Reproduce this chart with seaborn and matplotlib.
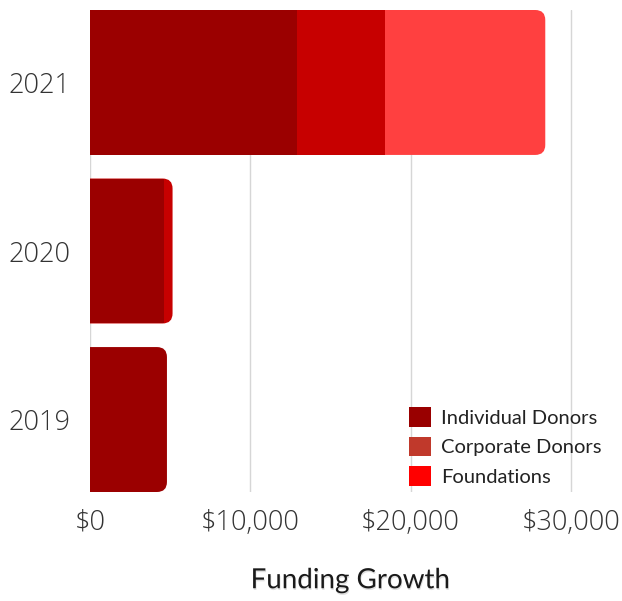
import matplotlib
matplotlib.use('Agg')
import matplotlib.pyplot as plt
import matplotlib.patheffects as pe
from matplotlib.patches import FancyBboxPatch, Patch
from matplotlib.ticker import FuncFormatter
import numpy as np
import pandas as pd
import seaborn as sns

# --------------------- data ---------------------
years = ['2021', '2020', '2019']
individual = [12900, 4600, 4800]
corporate = [5500, 550, 0]
foundations = [10000, 0, 0]

series_names = ['Individual Donors', 'Corporate Donors', 'Foundations']
bar_colors = ['#9b0000', '#c70000', '#ff4040']
legend_colors = ['#990000', '#c0392b', '#ff0000']

sns.set_style('white')
plt.rcParams['font.family'] = ['Open Sans', 'DejaVu Sans']

# --------------------- figure ---------------------
fig = plt.figure(figsize=(6.22, 6.01), dpi=100)
ax = fig.add_axes([90 / 622, 1 - 492 / 601, 521 / 622, 482 / 601])

seg = np.array([individual, corporate, foundations], dtype=float)
cum = seg.cumsum(axis=0)

# draw outer layers first, inner on top
layers = []
for k in [2, 1, 0]:
    df = pd.DataFrame({'year': years, 'value': cum[k]})
    n_before = len(ax.patches)
    sns.barplot(data=df, x='value', y='year', color=bar_colors[k], width=0.86,
                saturation=1, linewidth=0, edgecolor='none', ax=ax, zorder=3)
    layers.append((k, ax.patches[n_before:]))

ax.set_xlim(0, 32500)
ax.set_ylim(2.43, -0.43)

# data units per pixel, for round corners
fig.canvas.draw()
inv = ax.transData.inverted()
p0 = inv.transform((0, 0))
p1 = inv.transform((1, 1))
xpp = abs(p1[0] - p0[0])
ypp = abs(p1[1] - p0[1])
radius = 10 * xpp

for k, patches in layers:
    for i, p in enumerate(patches):
        p.set_zorder(3 + (2 - k) * 0.1)
        p.set_linewidth(0)
        if seg[k, i] <= 0:
            p.set_visible(False)
            continue
        outer = all(seg[j, i] <= 0 for j in range(k + 1, 3))
        if not outer:
            continue
        x, y, w, h = p.get_x(), p.get_y(), p.get_width(), p.get_height()
        p.set_visible(False)
        rb = FancyBboxPatch((x - radius, y), w + radius, h,
                            boxstyle=f'round,pad=0,rounding_size={radius}',
                            mutation_aspect=ypp / xpp,
                            fc=bar_colors[k], ec='none', lw=0, zorder=2.9)
        ax.add_patch(rb)

# --------------------- axes style ---------------------
ax.set_xticks([0, 10000, 20000, 30000])
ax.xaxis.set_major_formatter(FuncFormatter(lambda v, pos: f'${v:,.0f}'))
ax.grid(axis='x', color='#d6d6d6', lw=1, zorder=0)
ax.grid(axis='y', visible=False)
for s in ax.spines.values():
    s.set_visible(False)
ax.tick_params(axis='both', length=0, labelsize=19.5, labelcolor='#333333')
ax.tick_params(axis='x', pad=12)
ax.tick_params(axis='y', pad=14)
for lab in ax.get_xticklabels() + ax.get_yticklabels():
    lab.set_fontweight('light')
ax.set_ylabel('')
ax.set_xlabel('Funding Growth', fontsize=20, family=['Lato', 'DejaVu Sans'],
              fontweight='normal', color='#1a1a1a', labelpad=22,
              path_effects=[pe.withSimplePatchShadow(offset=(0.5, -1.2), alpha=0.12)])

handles = [Patch(fc=c, ec='none') for c in legend_colors]
ax.legend(handles, series_names, loc='lower right', bbox_to_anchor=(1.017, -0.025),
          frameon=False, prop={'family': ['Lato', 'DejaVu Sans'], 'size': 14.5},
          handlelength=1.1, handleheight=1.1, handletextpad=0.5, labelspacing=0.5,
          labelcolor='#222222')

plt.savefig('out.png', dpi=100)
plt.close()
